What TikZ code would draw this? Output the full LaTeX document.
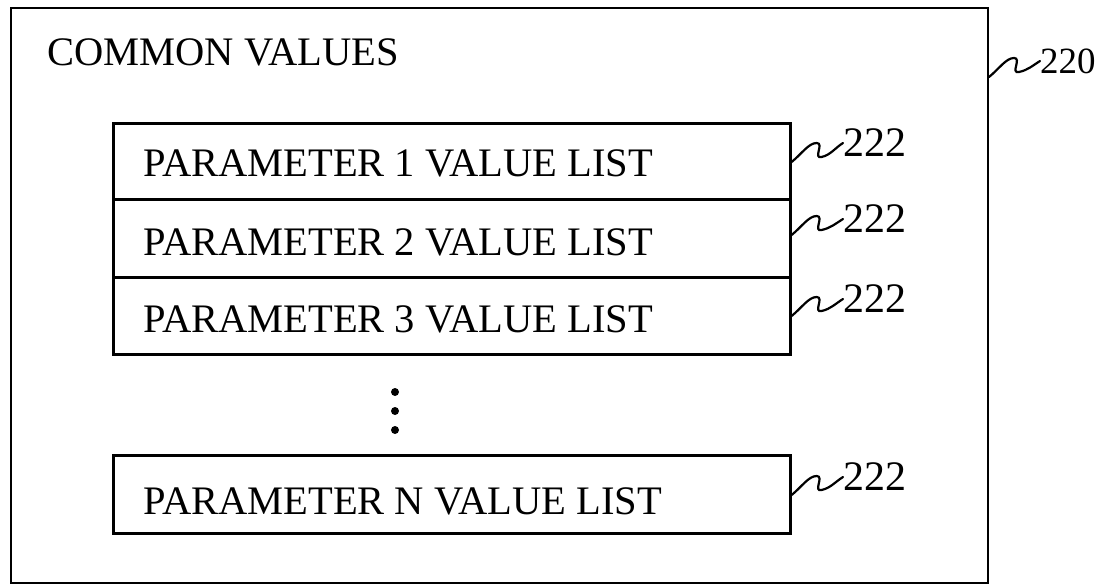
\documentclass[tikz,border=0pt]{standalone}
\usepackage{fontspec}
\setmainfont{Liberation Serif}
\usetikzlibrary{calc}
\begin{document}
\begin{tikzpicture}[x=1pt,y=-1pt,
  outerbox/.style={draw,line width=2pt,rectangle,inner sep=0pt,anchor=north west},
  listbox/.style={draw,line width=2.6pt,rectangle,inner sep=0pt,anchor=north west,minimum width=677pt},
  maintext/.style={inner sep=0pt,anchor=base west,font=\fontsize{40.5}{48}\selectfont},
  reflabel/.style={inner sep=0pt,anchor=west,font=\fontsize{42}{48}\selectfont},
  squig/.style={line width=2.2pt,line cap=round},
  dotnode/.style={circle,fill,inner sep=0pt,minimum size=8pt}]
\useasboundingbox (0,0) rectangle (1108,585);
% outer box
\node[outerbox,minimum width=977pt,minimum height=575pt] (outer) at (10,7) {};
\node[maintext] (title) at (47,66) {COMMON VALUES};
% list boxes
\node[listbox,minimum height=76pt] (p1) at (112,122) {};
\node[listbox,minimum height=78pt] (p2) at (112,198) {};
\node[listbox,minimum height=77pt] (p3) at (112,276) {};
\node[listbox,minimum height=78pt] (pn) at (112,454) {};
\node[maintext] (t1) at (143,177) {PARAMETER 1 VALUE LIST};
\node[maintext] (t2) at (143,256) {PARAMETER 2 VALUE LIST};
\node[maintext] (t3) at (143,332) {PARAMETER 3 VALUE LIST};
\node[maintext] (tn) at (143,514) {PARAMETER N VALUE LIST};
% dots
\node[dotnode] (d1) at (395,392) {};
\node[dotnode] (d2) at (395,411) {};
\node[dotnode] (d3) at (395,430) {};
% reference labels
\node[reflabel,font=\fontsize{37}{44}\selectfont] (l0) at (1040,61) {220};
\node[reflabel] (l1) at (843,143) {222};
\node[reflabel] (l2) at (843,219) {222};
\node[reflabel] (l3) at (843,299) {222};
\node[reflabel] (ln) at (843,477) {222};
\coordinate (s0) at (outer.east |- 0,77);
\coordinate (s1) at (p1.east |- 0,162);
\coordinate (s2) at (p2.east |- 0,235);
\coordinate (s3) at (p3.east |- 0,316);
\coordinate (sn) at (pn.east |- 0,495);
\foreach \s/\l in {s0/l0,s1/l1,s2/l2,s3/l3,sn/ln}{
  \draw[squig] (\s) .. controls +(10,-8) and +(-8,0) .. ++(25,-19)
     .. controls +(8,0) and +(-9,2) .. ++(5,14)
     .. controls +(9,-2) and +(-8,5) .. (\l.west);
}
\end{tikzpicture}
\end{document}
